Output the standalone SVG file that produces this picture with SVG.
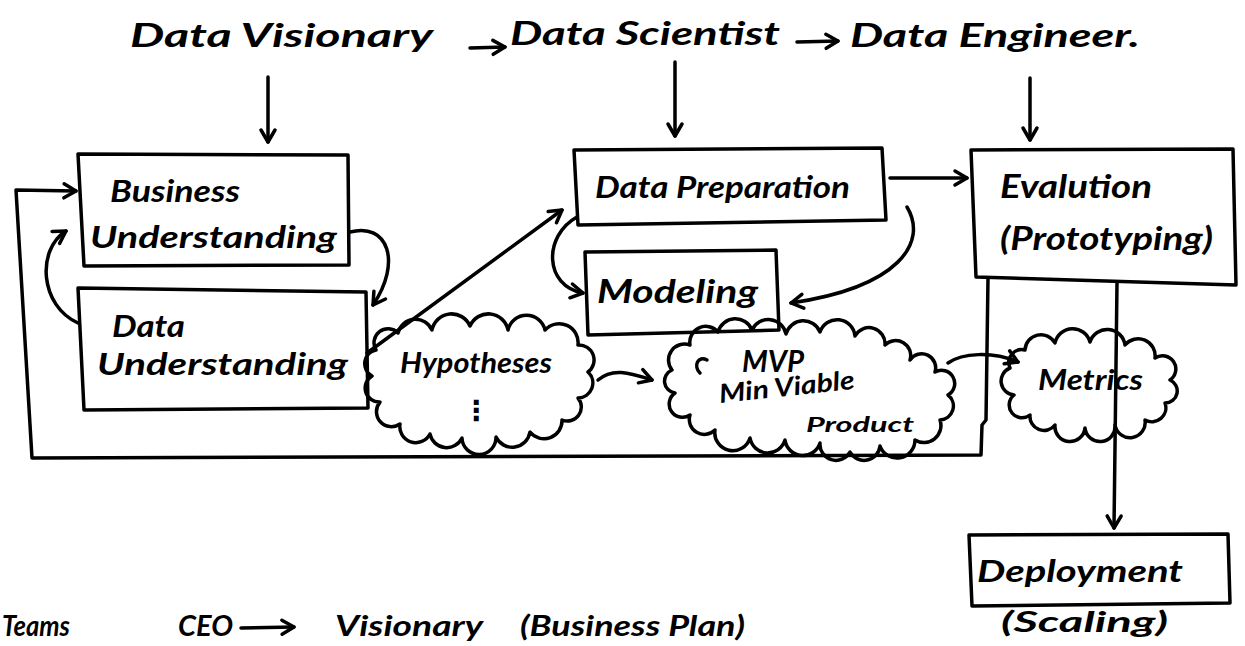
<svg xmlns="http://www.w3.org/2000/svg" width="1245" height="646" viewBox="0 0 1245 646">
  <style>
    .ink { fill: none; stroke: #000; stroke-width: 3.5; stroke-linecap: round; stroke-linejoin: round; }
    .hand { font-family: Lato, "Open Sans", "DejaVu Sans", sans-serif; font-style: italic; font-weight: 700; fill: #000; }
    .t32 { font-size: 32px; }
    .t30 { font-size: 30px; }
    .t28 { font-size: 28px; }
    .t26 { font-size: 26px; }
    .t20 { font-size: 20px; }
  </style>
  <defs>
    <marker id="head" viewBox="-14 -9 16 18" refX="0" refY="0" markerWidth="16" markerHeight="18" markerUnits="userSpaceOnUse" orient="auto" overflow="visible">
      <path d="M-12,-7 L0,0 L-12,7" fill="none" stroke="#000" stroke-width="3.5" stroke-linecap="round" stroke-linejoin="round"/>
    </marker>
  </defs>
  <rect width="1245" height="646" fill="#fff"/>

  <!-- role heading -->
  <g id="roles">
    <text class="hand t32" x="130" y="47" textLength="303" lengthAdjust="spacingAndGlyphs">Data Visionary</text>
    <text class="hand t32" x="510" y="45" textLength="270" lengthAdjust="spacingAndGlyphs">Data Scientist</text>
    <text class="hand t32" x="850" y="47" textLength="290" lengthAdjust="spacingAndGlyphs">Data Engineer.</text>
  </g>

  <g id="business-understanding">
    <path class="ink" d="M78,154 L348,155 L349,265 L84,266 Z"/>
    <text class="hand t30" x="110" y="202" textLength="130" lengthAdjust="spacingAndGlyphs">Business</text>
    <text class="hand t30" x="90" y="248" textLength="247" lengthAdjust="spacingAndGlyphs">Understanding</text>
  </g>

  <g id="data-understanding">
    <path class="ink" d="M78,288 L366,292 L368,408 L84,410 Z"/>
    <text class="hand t30" x="112" y="337" textLength="73" lengthAdjust="spacingAndGlyphs">Data</text>
    <text class="hand t30" x="97" y="375" textLength="251" lengthAdjust="spacingAndGlyphs">Understanding</text>
  </g>

  <g id="data-preparation">
    <path class="ink" d="M574,150 L882,148 L886,220 L578,225 Z"/>
    <text class="hand t30" x="595" y="198" textLength="255" lengthAdjust="spacingAndGlyphs">Data Preparation</text>
  </g>

  <g id="modeling">
    <path class="ink" d="M585,252 L776,250 L779,330 L588,335 Z"/>
    <text class="hand t32" x="597" y="303" textLength="161" lengthAdjust="spacingAndGlyphs">Modeling</text>
  </g>

  <g id="evaluation">
    <path class="ink" d="M971,150 L1233,149 L1236,285 L976,277 Z"/>
    <text class="hand t32" x="1000" y="198" textLength="152" lengthAdjust="spacingAndGlyphs">Evalution</text>
    <text class="hand t32" x="1000" y="250" textLength="213" lengthAdjust="spacingAndGlyphs">(Prototyping)</text>
  </g>

  <g id="deployment">
    <path class="ink" d="M969,535 L1228,534 L1230,603 L972,606 Z"/>
    <text class="hand t30" x="977" y="582" textLength="206" lengthAdjust="spacingAndGlyphs">Deployment</text>
    <text class="hand t28" x="1001" y="632" textLength="167" lengthAdjust="spacingAndGlyphs">(Scaling)</text>
  </g>

  <g id="hypotheses">
    <path class="ink" d="M376,350 A14,14 0 0 1 398,333 A18,18 0 0 1 432,330 A20,20 0 0 1 470,326 A20,20 0 0 1 508,330 A19,19 0 0 1 545,330 A19,19 0 0 1 578,345 A15,15 0 0 1 588,372 A15,15 0 0 1 578,398 A14,14 0 0 1 562,420 A18,18 0 0 1 530,432 A18,18 0 0 1 496,437 A17,17 0 0 1 462,438 A17,17 0 0 1 430,434 A16,16 0 0 1 400,424 A15,15 0 0 1 380,402 A14,14 0 0 1 372,376 A14,14 0 0 1 376,350 Z"/>
    <text class="hand t28" x="400" y="373" textLength="152" lengthAdjust="spacingAndGlyphs">Hypotheses</text>
    <text x="462" y="420" font-family="DejaVu Sans, sans-serif" font-size="28" font-weight="bold">⋮</text>
  </g>

  <g id="mvp">
    <path class="ink" d="M672,370 A16,16 0 0 1 690,345 A16,16 0 0 1 718,332 A18,18 0 0 1 752,330 A18,18 0 0 1 786,334 A18,18 0 0 1 820,332 A18,18 0 0 1 855,336 A16,16 0 0 1 885,345 A15,15 0 0 1 910,360 A14,14 0 0 1 935,372 A13,13 0 0 1 948,395 A14,14 0 0 1 940,420 A17,17 0 0 1 915,440 A18,18 0 0 1 880,446 A16,16 0 0 1 850,452 A16,16 0 0 1 820,443 A18,18 0 0 1 785,440 A18,18 0 0 1 750,438 A18,18 0 0 1 715,430 A15,15 0 0 1 690,415 A13,13 0 0 1 675,393 A12,12 0 0 1 672,370 Z"/>
    <path class="ink" d="M707,360 C698,355 693,366 700,373"/>
    <text class="hand t30" x="742" y="372" textLength="62" lengthAdjust="spacingAndGlyphs">MVP</text>
    <text class="hand t26" x="720" y="403" textLength="136" lengthAdjust="spacingAndGlyphs" transform="rotate(-6 720 403)">Min Viable</text>
    <text class="hand t20" x="806" y="432" textLength="108" lengthAdjust="spacingAndGlyphs">Product</text>
  </g>

  <g id="metrics">
    <path class="ink" d="M1010,368 A13,13 0 0 1 1025,350 A16,16 0 0 1 1055,343 A18,18 0 0 1 1090,342 A18,18 0 0 1 1125,345 A17,17 0 0 1 1155,358 A13,13 0 0 1 1170,380 A12,12 0 0 1 1165,403 A14,14 0 0 1 1145,420 A15,15 0 0 1 1115,425 A15,15 0 0 1 1085,428 A15,15 0 0 1 1055,425 A14,14 0 0 1 1030,415 A12,12 0 0 1 1014,395 A14,14 0 0 1 1010,368 Z"/>
    <text class="hand t28" x="1038" y="390" textLength="105" lengthAdjust="spacingAndGlyphs">Metrics</text>
  </g>

  <g id="teams">
    <text class="hand t28" x="2" y="636" textLength="68" lengthAdjust="spacingAndGlyphs">Teams</text>
    <text class="hand t28" x="178" y="636" textLength="55" lengthAdjust="spacingAndGlyphs">CEO</text>
    <text class="hand t28" x="335" y="636" textLength="148" lengthAdjust="spacingAndGlyphs">Visionary</text>
    <text class="hand t28" x="520" y="636" textLength="225" lengthAdjust="spacingAndGlyphs">(Business Plan)</text>
  </g>

  <g id="connectors">
    <!-- heading chain -->
    <path class="ink" d="M470,48 L505,47" marker-end="url(#head)"/>
    <path class="ink" d="M797,42 L838,41" marker-end="url(#head)"/>
    <path class="ink" d="M268,77 L268,142" marker-end="url(#head)"/>
    <path class="ink" d="M675,62 L675,136" marker-end="url(#head)"/>
    <path class="ink" d="M1030,78 L1030,140" marker-end="url(#head)"/>
    <!-- understanding loop -->
    <path class="ink" d="M350,232 C388,222 402,262 373,305" marker-end="url(#head)"/>
    <path class="ink" d="M78,323 C40,306 36,250 66,231" marker-end="url(#head)"/>
    <!-- data understanding to preparation -->
    <path class="ink" d="M367,353 L562,210" marker-end="url(#head)"/>
    <!-- preparation to modeling -->
    <path class="ink" d="M577,217 C543,236 544,286 583,293" marker-end="url(#head)"/>
    <path class="ink" d="M907,207 C928,242 900,287 791,303" marker-end="url(#head)"/>
    <!-- preparation to evaluation -->
    <path class="ink" d="M890,178 L967,178" marker-end="url(#head)"/>
    <!-- hypotheses to MVP -->
    <path class="ink" d="M598,380 C612,368 628,372 652,380" marker-end="url(#head)"/>
    <!-- MVP to metrics -->
    <path class="ink" d="M948,363 C962,353 992,351 1018,362" marker-end="url(#head)"/>
    <!-- evaluation back to business understanding -->
    <path class="ink" d="M988,278 L986,420 L982,425 L981,455 L32,458 L16,190 L76,191" marker-end="url(#head)"/>
    <!-- evaluation to deployment -->
    <path class="ink" d="M1117,283 L1114,528" marker-end="url(#head)"/>
    <!-- CEO to visionary -->
    <path class="ink" d="M241,628 L294,627" marker-end="url(#head)"/>
  </g>
</svg>
